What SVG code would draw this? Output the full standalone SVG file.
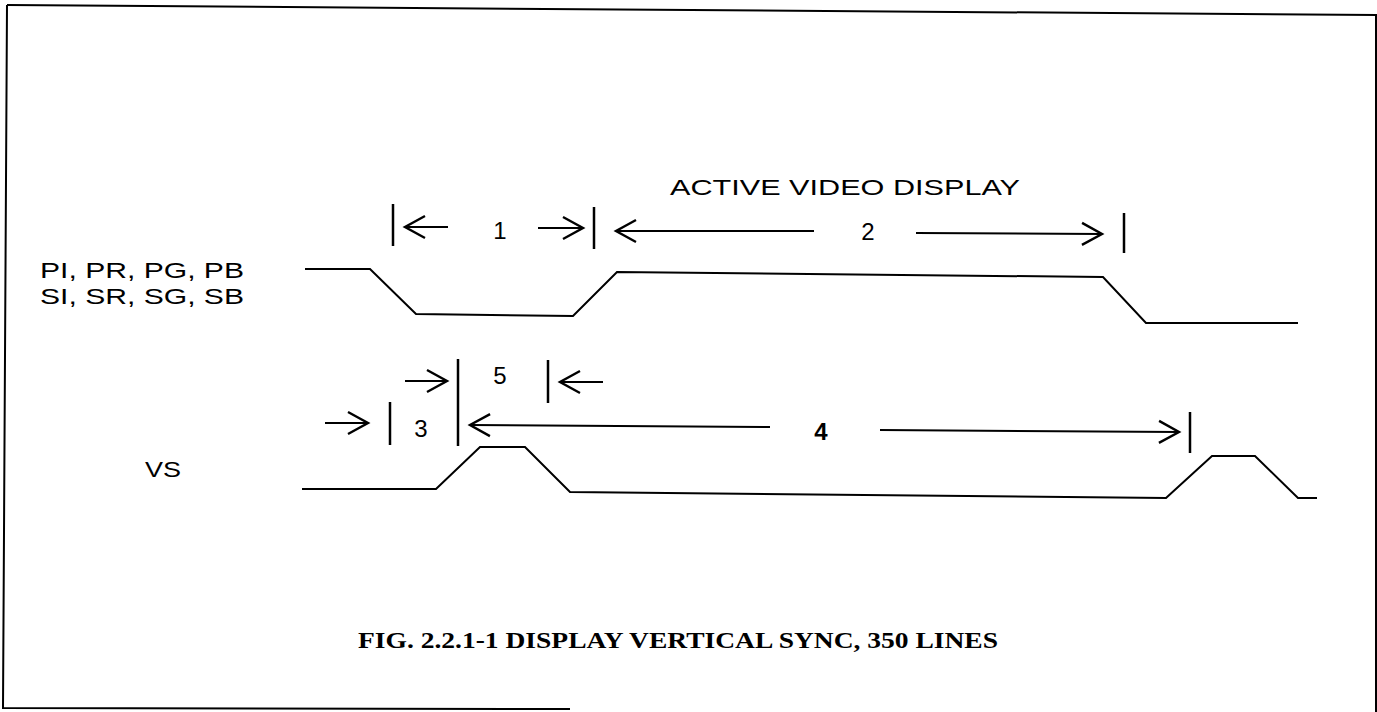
<svg xmlns="http://www.w3.org/2000/svg" width="1377" height="712" viewBox="0 0 1377 712">
<style>
.bg{fill:#fff}
.frame{fill:none;stroke:#000;stroke-width:2}
.sig{fill:none;stroke:#000;stroke-width:2;stroke-linejoin:miter}
.bar{stroke:#000;stroke-width:2.5;fill:none}
.arr{stroke:#000;stroke-width:2;fill:none;marker-end:url(#ah)}
.lbl{font-family:"Liberation Sans","DejaVu Sans",sans-serif;font-size:22px;fill:#000}
.num{font-family:"Liberation Sans","DejaVu Sans",sans-serif;font-size:24px;fill:#000}
.cap{font-family:"Liberation Serif","Times New Roman",serif;font-size:24px;font-weight:bold;fill:#000}
</style>
<defs>
<marker id="ah" markerUnits="userSpaceOnUse" viewBox="-22 -13 24 26" refX="0" refY="0" markerWidth="24" markerHeight="26" orient="auto" overflow="visible">
<path d="M-20,-11 L0,0 L-20,11" fill="none" stroke="#000" stroke-width="2.4"/>
</marker>
</defs>
<rect class="bg" x="0" y="0" width="1377" height="712"/>
<g id="frame">
<path class="frame" d="M7,5 L1377,15"/>
<path class="frame" d="M7,5 L3,708 L570,709"/>
<path class="frame" d="M1376,16 L1376,712"/>
</g>
<g id="labels">
<text id="title" class="lbl" x="670" y="195" textLength="350" lengthAdjust="spacingAndGlyphs">ACTIVE VIDEO DISPLAY</text>
<text id="lbl-p" class="lbl" x="40" y="278" textLength="204" lengthAdjust="spacingAndGlyphs">PI, PR, PG, PB</text>
<text id="lbl-s" class="lbl" x="40" y="304" textLength="204" lengthAdjust="spacingAndGlyphs">SI, SR, SG, SB</text>
<text id="lbl-vs" class="lbl" x="145" y="477" textLength="36" lengthAdjust="spacingAndGlyphs">VS</text>
<text id="n1" class="num" x="500" y="239" text-anchor="middle" font-family="Liberation Serif, serif">1</text>
<text id="n2" class="num" x="868" y="240" text-anchor="middle">2</text>
<text id="n5" class="num" x="500" y="384" text-anchor="middle">5</text>
<text id="n3" class="num" x="421" y="437" text-anchor="middle">3</text>
<text id="n4" class="num" x="821" y="440" text-anchor="middle" font-weight="bold">4</text>
</g>
<g id="signals">
<path id="sig-pixel" class="sig" d="M305,269 L370,269 L416,314 L573,316 L617,272 L1103,277 L1146,323 L1298,323"/>
<path id="sig-vs" class="sig" d="M302,489 L436,489 L480,447 L525,447 L570,492 L1166,498 L1212,456 L1255,456 L1298,498 L1317,498"/>
</g>
<g id="connectors">
<line class="bar" x1="393" y1="204" x2="393" y2="246"/>
<line class="arr" x1="448" y1="227" x2="405" y2="227"/>
<line class="arr" x1="538" y1="228" x2="583" y2="228"/>
<line class="bar" x1="594" y1="207" x2="594" y2="249"/>
<line class="arr" x1="814" y1="231" x2="616" y2="231"/>
<line class="arr" x1="916" y1="233" x2="1102" y2="234"/>
<line class="bar" x1="1124" y1="213" x2="1124" y2="253"/>
<line class="arr" x1="405" y1="381" x2="447" y2="381"/>
<line class="bar" x1="458" y1="359" x2="458" y2="446"/>
<line class="bar" x1="548" y1="360" x2="548" y2="403"/>
<line class="arr" x1="603" y1="382" x2="560" y2="382"/>
<line class="arr" x1="325" y1="423" x2="368" y2="423"/>
<line class="bar" x1="390" y1="402" x2="390" y2="445"/>
<line class="arr" x1="770" y1="427" x2="470" y2="425"/>
<line class="arr" x1="880" y1="430" x2="1179" y2="432"/>
<line class="bar" x1="1190" y1="412" x2="1190" y2="453"/>
</g>
<g id="caption">
<text class="cap" x="358" y="648" textLength="640" lengthAdjust="spacingAndGlyphs">FIG. 2.2.1-1 DISPLAY VERTICAL SYNC, 350 LINES</text>
</g>
</svg>
